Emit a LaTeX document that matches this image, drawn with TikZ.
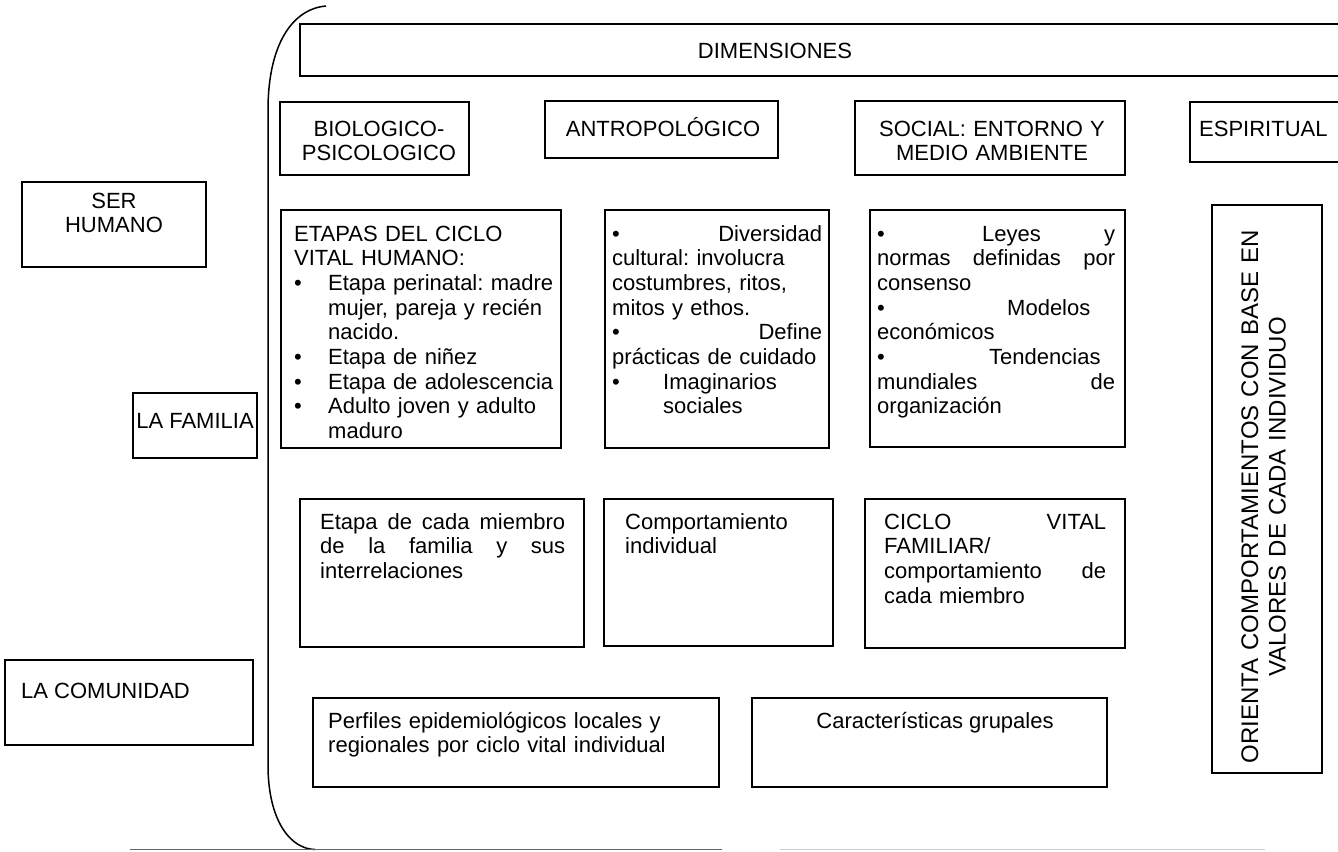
\documentclass[tikz,border=0pt]{standalone}
\usepackage{fontspec}
\setmainfont{Liberation Sans}
\frenchspacing
\newcommand\fs{\fontsize{22}{24.7}\selectfont}
\newcommand\fsbig{\fontsize{24}{27.5}\selectfont}
\begin{document}
\begin{tikzpicture}[x=1pt,y=-1pt,
  box/.style={draw=black, line width=1.5pt, anchor=north west, inner sep=0pt, outer sep=0pt},
  txt/.style={inner sep=0pt, anchor=base west, align=left, font=\fs},
  ctxt/.style={inner sep=0pt, anchor=base, align=center, font=\fs},
  bracket/.style={draw=black, line width=1.5pt},
  rule/.style={line width=1.5pt}]
\useasboundingbox (0,0) rectangle (1338,851);

% outer bracket and bottom rules
\draw[bracket] (326,6) .. controls (292,9) and (268,45) .. (268,110) -- (268,765) .. controls (268,820) and (290,849) .. (315,849.5);
\draw[rule, black!60] (130,849.5) -- (722,849.5);
\draw[rule, black!20] (780,849.5) -- (1265,849.5);

% header
\node[box, minimum width=1050pt, minimum height=52pt] (dimbox) at (300,24) {};
\node[font=\fs, inner sep=0pt] (dim) at (775,51) {DIMENSIONES};

\node[box, minimum width=189pt, minimum height=73pt] (biobox) at (280,102) {};
\node[ctxt, text width=189pt] (bio) at (379,136) {BIOLOGICO-\\PSICOLOGICO};

\node[box, minimum width=233pt, minimum height=57pt] (antbox) at (545,101) {};
\node[ctxt] (ant) at (663,136) {ANTROPOLÓGICO};

\node[box, minimum width=270pt, minimum height=74pt] (socbox) at (855,101) {};
\node[ctxt, text width=270pt] (soc) at (992,136) {SOCIAL: ENTORNO Y\\MEDIO AMBIENTE};

\node[box, minimum width=170pt, minimum height=60pt] (espbox) at (1190,102) {};
\node[txt] (esp) at (1199,136) {ESPIRITUAL};

% left labels
\node[box, minimum width=184pt, minimum height=85pt] (serbox) at (22,182) {};
\node[ctxt, text width=184pt] (ser) at (114,208) {SER\\HUMANO};

\node[box, minimum width=124pt, minimum height=65pt] (fambox) at (133,393) {};
\node[ctxt] (fam) at (195,428) {LA FAMILIA};

\node[box, minimum width=248pt, minimum height=85pt] (combox) at (5,660) {};
\node[txt] (com) at (21,698) {LA COMUNIDAD};

% row: individual
\node[box, minimum width=280pt, minimum height=238pt] (etabox) at (281,210) {};
\node[txt, text width=300pt] (eta) at (294,241) {%
ETAPAS DEL CICLO\\
VITAL HUMANO:\\
\makebox[34pt][l]{•}Etapa perinatal: madre\\
\hspace*{34pt}mujer, pareja y recién\\
\hspace*{34pt}nacido.\\
\makebox[34pt][l]{•}Etapa de niñez\\
\makebox[34pt][l]{•}Etapa de adolescencia\\
\makebox[34pt][l]{•}Adulto joven y adulto\\
\hspace*{34pt}maduro};

\node[box, minimum width=224pt, minimum height=238pt] (divbox) at (605,210) {};
\node[txt, text width=210pt] (div) at (612,241) {%
•\hfill Diversidad\\
cultural: involucra\\
costumbres, ritos,\\
mitos y ethos.\\
•\hfill Define\\
prácticas de cuidado\\
\makebox[51pt][l]{•}Imaginarios\\
\hspace*{51pt}sociales};

\node[box, minimum width=255pt, minimum height=237pt] (leybox) at (870,210) {};
\node[txt, text width=238pt] (ley) at (877,241) {%
\makebox[105pt][l]{•}Leyes\hfill y\\
normas\hfill definidas\hfill por\\
consenso\\
\makebox[130pt][l]{•}Modelos\\
económicos\\
\makebox[112pt][l]{•}Tendencias\\
mundiales\hfill de\\
organización};

\node[box, minimum width=110pt, minimum height=568pt] (oribox) at (1212,205) {};
\node[font=\fsbig, inner sep=0pt, rotate=90, align=center, text width=560pt] (ori) at (1263.5,497) {ORIENTA COMPORTAMIENTOS CON BASE EN\\VALORES DE CADA INDIVIDUO};

% row: family
\node[box, minimum width=284pt, minimum height=148pt] (miebox) at (300,499) {};
\node[txt, text width=245pt] (mie) at (320,529) {%
Etapa\hfill de\hfill cada\hfill miembro\\
de\hfill la\hfill familia\hfill y\hfill sus\\
interrelaciones};

\node[box, minimum width=229pt, minimum height=147pt] (combox2) at (604,499) {};
\node[txt, text width=200pt] (cin) at (625,529) {Comportamiento\\individual};

\node[box, minimum width=260pt, minimum height=149pt] (cicbox) at (865,499) {};
\node[txt, text width=222pt] (cic) at (884,529) {%
CICLO\hfill VITAL\\
FAMILIAR/\\
comportamiento\hfill de\\
cada miembro};

% row: community
\node[box, minimum width=406pt, minimum height=89pt] (perbox) at (313,698) {};
\node[txt, text width=390pt] (per) at (328,728) {Perfiles epidemiológicos locales y\\regionales por ciclo vital individual};

\node[box, minimum width=355pt, minimum height=89pt] (carbox) at (752,698) {};
\node[ctxt] (car) at (935,728) {Características grupales};
\end{tikzpicture}
\end{document}
